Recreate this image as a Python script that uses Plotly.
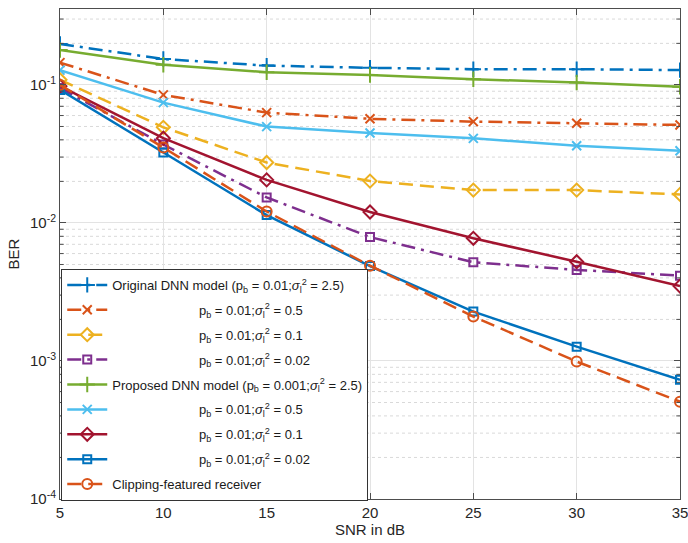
import plotly.graph_objects as go

snr = [5, 10, 15, 20, 25, 30, 35]

orig_25 = [0.198, 0.154, 0.138, 0.133, 0.130, 0.130, 0.128]
orig_05 = [0.145, 0.0847, 0.063, 0.0568, 0.0542, 0.0527, 0.0513]
orig_01 = [0.109, 0.0493, 0.0274, 0.0201, 0.0173, 0.0173, 0.0161]
orig_002 = [0.095, 0.037, 0.0153, 0.0079, 0.00519, 0.00457, 0.00415]
prop_25 = [0.179, 0.140, 0.1236, 0.118, 0.110, 0.104, 0.097]
prop_05 = [0.128, 0.0744, 0.0499, 0.0449, 0.041, 0.0362, 0.0333]
prop_01 = [0.098, 0.0411, 0.0205, 0.012, 0.00774, 0.00524, 0.00349]
prop_002 = [0.092, 0.0324, 0.0114, 0.00487, 0.00228, 0.00127, 0.00073]
clipping = [0.100, 0.0352, 0.0121, 0.0049, 0.0021, 0.00099, 0.000507]

ytick_vals = [1e-4, 1e-3, 1e-2, 1e-1]
ytick_text = ["10<sup>-4</sup>", "10<sup>-3</sup>", "10<sup>-2</sup>", "10<sup>-1</sup>"]
y_max = 10 ** -0.45

sig = "<i>σ</i><sub>l</sub><sup>2</sup>"
pb = "p<sub>b</sub>"
pad = "\u00a0" * 24
names = [
    f"Original DNN model ({pb} = 0.01;{sig} = 2.5)",
    f"{pad}{pb} = 0.01;{sig} = 0.5",
    f"{pad}{pb} = 0.01;{sig} = 0.1",
    f"{pad}{pb} = 0.01;{sig} = 0.02",
    f"Proposed DNN model ({pb} = 0.001;{sig} = 2.5)",
    f"{pad}{pb} = 0.01;{sig} = 0.5",
    f"{pad}{pb} = 0.01;{sig} = 0.1",
    f"{pad}{pb} = 0.01;{sig} = 0.02",
    "Clipping-featured receiver",
]
series = [orig_25, orig_05, orig_01, orig_002, prop_25, prop_05, prop_01, prop_002, clipping]
colors = ["#0072BD", "#D95319", "#EDB120", "#7E2F8E", "#77AC30", "#4DBEEE", "#A2142F", "#0072BD", "#D95319"]
DASH = "14px,7px"
DASHDOT = "14px,6px,3px,6px"
dashes = [DASHDOT, DASHDOT, DASH, DASHDOT, "solid", "solid", "solid", "solid", DASH]
symbols = ["cross-thin-open", "x-thin-open", "diamond-open", "square-open",
           "cross-thin-open", "x-thin-open", "diamond-open", "square-open", "circle-open"]
sizes = [11, 9, 10, 8, 11, 9, 10, 8, 10]

fig = go.Figure()
for i, (nm, ys) in enumerate(zip(names, series)):
    fig.add_trace(go.Scatter(
        x=snr, y=ys, name=nm, mode="lines+markers", legendgroup=f"g{i}",
        line=dict(color=colors[i], width=2.5, dash=dashes[i]),
        marker=dict(symbol=symbols[i], size=sizes[i], color=colors[i],
                    line=dict(color=colors[i], width=2.0)),
    ))

axcol = "#4d4d4d"
# minor log grid lines and minor ticks
shapes = []
for k in range(-4, 0):
    for m in range(2, 10):
        yv = m * 10 ** k
        if yv > y_max:
            continue
        shapes.append(dict(type="line", xref="paper", yref="y", x0=0, x1=1, y0=yv, y1=yv,
                           line=dict(color="#d9d9d9", width=1, dash="dot"), layer="below"))
        shapes.append(dict(type="line", xref="paper", yref="y", x0=0, x1=0.006, y0=yv, y1=yv,
                           line=dict(color=axcol, width=1), layer="above"))
        shapes.append(dict(type="line", xref="paper", yref="y", x0=0.994, x1=1, y0=yv, y1=yv,
                           line=dict(color=axcol, width=1), layer="above"))

fig.update_layout(
    width=688, height=543,
    margin=dict(l=60, r=8, t=9, b=44),
    paper_bgcolor="white", plot_bgcolor="white",
    font=dict(family="Liberation Sans, Arial, sans-serif", color="#262626", size=14),
    shapes=shapes,
    legend=dict(
        x=0.002, y=-0.004, xanchor="left", yanchor="bottom",
        bgcolor="white", bordercolor="#333333", borderwidth=1,
        font=dict(size=13, color="#1a1a1a"),
        itemwidth=40, tracegroupgap=5,
    ),
    xaxis=dict(
        range=[5, 35], tickvals=snr, ticktext=[str(v) for v in snr],
        showline=True, linecolor=axcol, linewidth=1, mirror="ticks",
        ticks="inside", ticklen=6, tickcolor=axcol, automargin=False,
        showgrid=True, gridcolor="#e3e3e3", gridwidth=1, zeroline=False,
        title=dict(text="SNR in dB", standoff=4, font=dict(size=15)),
        tickfont=dict(size=15), ticklabeloverflow="allow",
    ),
    yaxis=dict(
        type="log", range=[-4, -0.45],
        tickvals=ytick_vals, ticktext=ytick_text,
        showline=True, linecolor=axcol, linewidth=1, mirror="ticks",
        ticks="inside", ticklen=6, tickcolor=axcol, automargin=False,
        showgrid=True, gridcolor="#e3e3e3", gridwidth=1, zeroline=False,
        title=dict(text="BER", standoff=6, font=dict(size=15)),
        tickfont=dict(size=15),
    ),
)

fig.write_html("out.html", config={"displayModeBar": False},
               post_script="document.body.style.margin='0';document.body.style.overflow='hidden';")
